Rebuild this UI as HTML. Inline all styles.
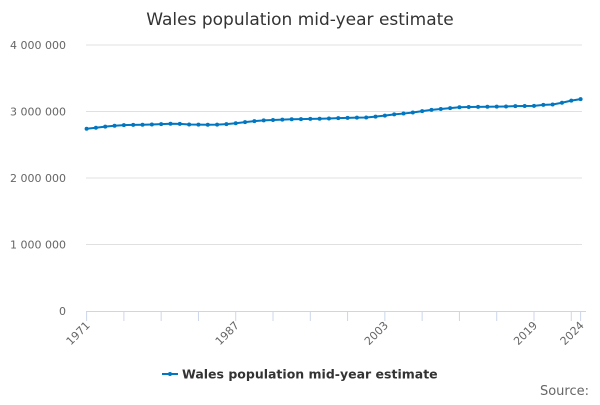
<!DOCTYPE html>
<html><head><meta charset="utf-8"><style>
body{margin:0;background:#fff;font-family:"Liberation Sans","DejaVu Sans",sans-serif}
svg text{font-family:"DejaVu Sans","Liberation Sans",sans-serif}
</style></head><body>
<svg id="chart" width="600" height="400">
<text x="300" y="25" text-anchor="middle" font-size="17" fill="#333">Wales population mid-year estimate</text>
<g id="grid"></g><g id="xaxis"></g><g id="series"></g>
<g>
<line x1="162" y1="374" x2="178" y2="374" stroke="#0077c0" stroke-width="2"/>
<circle cx="170" cy="374" r="2" fill="#0077c0"/>
<text x="182" y="378.5" font-size="12.5" font-weight="bold" fill="#333">Wales population mid-year estimate</text>
</g>
<text x="589" y="395" text-anchor="end" font-size="13" fill="#666">Source:</text>
</svg>
<script>
const years=[];for(let y=1971;y<=2024;y++)years.push(y);
const values=[2740,2755,2773,2785,2795,2799,2801,2804,2810,2816,2813,2804,2803,2801,2803,2811,2823,2841,2855,2866,2873,2877,2883,2886,2889,2891,2895,2900,2904,2907,2910,2923,2938,2957,2969,2985,3006,3025,3038,3050,3064,3068,3070,3072,3073,3076,3080,3083,3085,3100,3105,3132,3164,3186].map(v=>v*1000);
const yTicks=[0,1000000,2000000,3000000,4000000];
const yTickLabels=["0","1 000 000","2 000 000","3 000 000","4 000 000"];
const xLabelYears=[1971,1987,2003,2019,2024];
const NS="http://www.w3.org/2000/svg";
const xs=y=>86.6+(y-1971)*(494/53);
const ys=v=>311-v/4000000*266;
function mk(tag,attrs,parent){const e=document.createElementNS(NS,tag);for(const k in attrs)e.setAttribute(k,attrs[k]);document.getElementById(parent).appendChild(e);return e;}
yTicks.forEach((t,i)=>{
 if(t>0){const g=mk('line',{x1:86,x2:582,y1:ys(t),y2:ys(t),stroke:'#e0e0e0','stroke-width':1},'grid');
 
 }
 const l=mk('text',{x:66,y:ys(t)+4,'text-anchor':'end','font-size':11,fill:'#666'},'grid');l.textContent=yTickLabels[i];
 
 
});
const ax=mk('line',{x1:86,x2:586,y1:311.5,y2:311.5,stroke:'#ccd6eb','stroke-width':1},'xaxis');


for(let y=1971;y<=2024;y+=4){const t=mk('line',{x1:xs(y),x2:xs(y),y1:311,y2:321,stroke:'#ccd6eb'},'xaxis');

}
mk('line',{x1:xs(2024),x2:xs(2024),y1:311,y2:321,stroke:'#ccd6eb'},'xaxis');
xLabelYears.forEach(y=>{const x=xs(y)+4,yy=326;const l=mk('text',{x:x,y:yy,'text-anchor':'end','font-size':11,fill:'#666',transform:`rotate(-45 ${x} ${yy})`},'xaxis');l.textContent=y;

});
const p=mk('polyline',{points:years.map((y,i)=>xs(y)+','+ys(values[i])).join(' '),fill:'none',stroke:'#0077c0','stroke-width':2},'series');


years.forEach((y,i)=>{const c=mk('circle',{cx:xs(y),cy:ys(values[i]),r:2,fill:'#0077c0'},'series');

});
</script>
</body></html>
